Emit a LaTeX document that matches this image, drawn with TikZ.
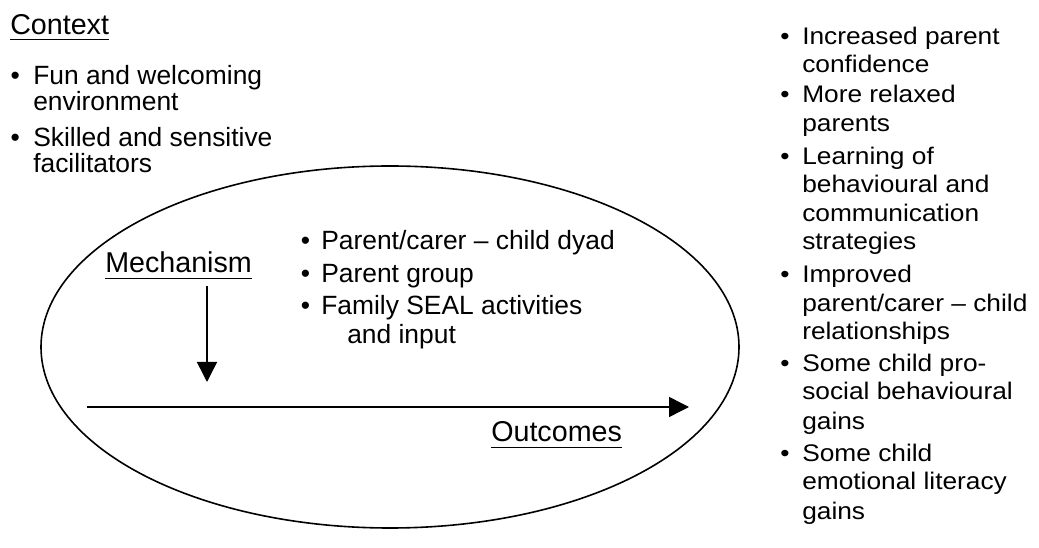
\documentclass[tikz,border=0pt]{standalone}
\usepackage{fontspec}
\setmainfont{Liberation Sans}
\newfontfamily\widesans[FakeStretch=1.096]{Liberation Sans}
\usetikzlibrary{arrows.meta}

\begin{document}
\begin{tikzpicture}[x=0.75pt,y=-0.75pt,
  heading/.style={anchor=base west, inner sep=0pt, font=\fontsize{21.5pt}{25pt}\selectfont},
  body/.style={anchor=base west, inner sep=0pt, font=\fontsize{19.8pt}{23pt}\selectfont},
  side/.style={anchor=base west, inner sep=0pt, font=\widesans\fontsize{18pt}{21pt}\selectfont},
  uline/.style={line width=1.1pt},
  outline/.style={line width=1.2pt},
  flow/.style={line width=1.1pt, -{Triangle[width=15pt,length=15pt]}},
]
\useasboundingbox (0,0) rectangle (1039,548);

% context heading and its conditions
\node[heading] (ctx) at (10,35) {Context};
\draw[uline] ([yshift=-3.5pt]ctx.base west) -- ([yshift=-3.5pt]ctx.base east);
\node[body] (cb1) at (10.4,85) {•};
\node[body] (c1a) at (33,85) {Fun and welcoming};
\node[body] (c1b) at (33,110.5) {environment};
\node[body] (cb2) at (10.4,147) {•};
\node[body] (c2a) at (33,147) {Skilled and sensitive};
\node[body] (c2b) at (33,173) {facilitators};

% programme oval
\draw[outline] (390,347) ellipse [x radius=261.75pt, y radius=135.75pt];

% mechanism heading and its components
\node[heading] (mech) at (105,273) {Mechanism};
\draw[uline] ([yshift=-4pt]mech.base west) -- ([yshift=-4pt]mech.base east);
\node[body] (mb1) at (300.5,250) {•};
\node[body] (m1) at (321,250) {Parent/carer – child dyad};
\node[body] (mb2) at (300.5,283) {•};
\node[body] (m2) at (321,283) {Parent group};
\node[body] (mb3) at (300.5,315) {•};
\node[body] (m3a) at (321,315) {Family SEAL activities};
\node[body] (m3b) at (347,344) {and input};

% arrows
\coordinate (dtop) at (207,286);
\coordinate (dtip) at (207,382);
\coordinate (hstart) at (87,407);
\coordinate (htip) at (689,407);
\draw[flow] (dtop) -- (dtip);
\draw[flow] (hstart) -- (htip);

% outcomes heading
\node[heading] (outc) at (491,442) {Outcomes};
\draw[uline] ([yshift=-4pt]outc.base west) -- ([yshift=-4pt]outc.base east);

% list of outcomes
\node[side] (ob1) at (780,45) {•};
\node[side] (o1a) at (802,45) {Increased parent};
\node[side] (o1b) at (802,73) {confidence};
\node[side] (ob2) at (780,103) {•};
\node[side] (o2a) at (802,103) {More relaxed};
\node[side] (o2b) at (802,132) {parents};
\node[side] (ob3) at (780,165) {•};
\node[side] (o3a) at (802,165) {Learning of};
\node[side] (o3b) at (802,193) {behavioural and};
\node[side] (o3c) at (802,222) {communication};
\node[side] (o3d) at (802,250) {strategies};
\node[side] (ob4) at (780,283) {•};
\node[side] (o4a) at (802,283) {Improved};
\node[side] (o4b) at (802,312) {parent/carer – child};
\node[side] (o4c) at (802,340) {relationships};
\node[side] (ob5) at (780,372) {•};
\node[side] (o5a) at (802,372) {Some child pro-};
\node[side] (o5b) at (802,400) {social behavioural};
\node[side] (o5c) at (802,430) {gains};
\node[side] (ob6) at (780,462) {•};
\node[side] (o6a) at (802,462) {Some child};
\node[side] (o6b) at (802,490) {emotional literacy};
\node[side] (o6c) at (802,520) {gains};
\end{tikzpicture}
\end{document}
